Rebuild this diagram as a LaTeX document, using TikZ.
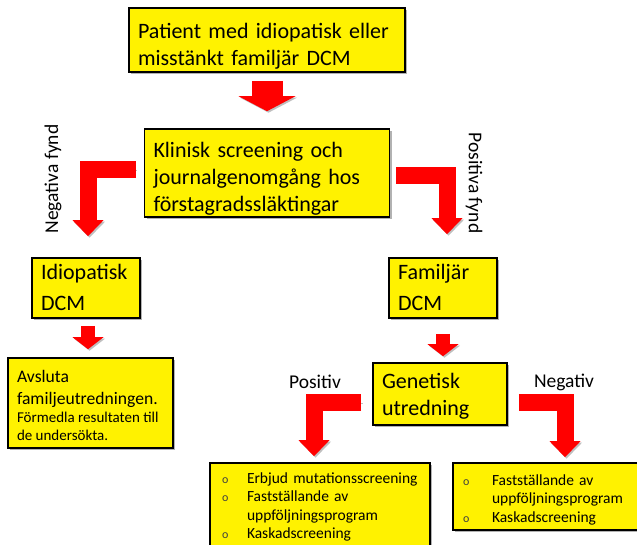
\documentclass[tikz,border=0pt]{standalone}
\usepackage{fontspec}
\setmainfont{Carlito}
\usetikzlibrary{arrows.meta,positioning,shadows}
\newcommand{\lstdot}[1][25pt]{\makebox[#1][l]{\textcolor{black!75}{\fontsize{12}{12}\selectfont o}}}
\newcommand{\lstgap}[1][25pt]{\hspace*{#1}}

\begin{document}
\begin{tikzpicture}[
  x=1pt, y=-1pt,
  box/.style={draw=black, line width=1.6pt, fill=yellow, align=left,
    inner xsep=9pt, inner ysep=0pt,
    drop shadow={shadow xshift=2pt, shadow yshift=-2pt, opacity=0.3, fill=black}},
  big/.style={font=\fontsize{22}{27}\selectfont},
  lst/.style={font=\fontsize{15.5}{18.5}\selectfont},
  lbl/.style={font=\fontsize{19.5}{22}\selectfont},
  blk/.style={draw=red, line join=miter,
    preaction={draw=black!25, transform canvas={shift={(1.5pt,-1.5pt)}}}},
  arrbig/.style={blk, line width=31pt, -{Triangle[width=57pt,length=15pt,line width=0pt]}},
  arrsmall/.style={blk, line width=14pt, -{Triangle[width=31pt,length=12pt,line width=0pt]}},
  arrbent/.style={blk, line width=17pt, -{Triangle[width=31pt,length=16pt,line width=0pt]}}
]
\useasboundingbox (0,0) rectangle (637,544);

% boxes
\node[box, big, minimum width=276pt, text width=258pt, text height=30pt, text depth=34pt] (pat) at (267,40)
  {Patient med idiopatisk eller\\misstänkt familjär DCM};
\node[box, big, minimum width=245pt, text width=227pt, text height=28pt, text depth=60pt] (scr) at (267,173)
  {Klinisk screening och\\journalgenomgång hos\\förstagradssläktingar};
\node[box, font=\fontsize{22}{31}\selectfont, minimum width=108pt, text width=90pt, text height=21pt, text depth=39pt] (idio) at (86,288)
  {Idiopatisk\\DCM};
\node[box, font=\fontsize{22}{31}\selectfont, minimum width=108pt, text width=90pt, text height=21pt, text depth=39pt] (fam) at (443,288)
  {Familjär\\DCM};
\node[box, minimum width=165pt, text height=24pt, text depth=66pt] (avsl) at (90.5,403)
  {\parbox[t]{147pt}{\raggedright
   \fontsize{17.6}{22}\selectfont Avsluta\\familjeutredningen.\par
   \fontsize{15}{18}\selectfont Förmedla resultaten till\\de undersökta.}};
\node[box, big, minimum width=134pt, text width=116pt, text height=25pt, text depth=37pt] (gen) at (440,394)
  {Genetisk\\utredning};
\node[box, lst, inner xsep=12pt, minimum width=220pt, text width=196pt, text height=20pt, text depth=69pt] (posbox) at (320,507.5)
  {\lstdot Erbjud mutationsscreening\\\lstdot Fastställande av\\\lstgap uppföljningsprogram\\\lstdot Kaskadscreening};
\node[box, lst, inner xsep=10pt, minimum width=224pt, text width=204pt, text height=22pt, text depth=45pt] (negbox) at (565,496.5)
  {\lstdot[29pt]Fastställande av\\\lstgap[29pt]uppföljningsprogram\\\lstdot[29pt]Kaskadscreening};

% labels
\node[lbl, rotate=90] (negfynd) at (53,179) {Negativa fynd};
\node[lbl, rotate=-90] (posfynd) at (474,183) {Positiva fynd};
\node[lbl] (posit) at (315,382) {Positiv};
\node[lbl] (negat) at (564,382) {Negativ};

% arrows
\draw[arrbig] ([yshift=-8pt]pat.south) -- ([yshift=17pt]scr.north);
\draw[arrbent] ([xshift=-8pt,yshift=4pt]scr.west) -| ([xshift=2pt,yshift=21pt]idio.north);
\draw[arrbent] ([xshift=6pt,yshift=-2pt]scr.east) -| ([xshift=4pt,yshift=23pt]fam.north);
\draw[arrsmall] ([xshift=2pt,yshift=-7pt]idio.south) -- ([xshift=2pt,yshift=8pt]idio.south |- avsl.north);
\draw[arrsmall] ([yshift=-15pt]fam.south) -- ([yshift=6pt]fam.south |- gen.north);
\draw[arrbent] ([xshift=-11pt,yshift=-8pt]gen.west) -| ([xshift=-6pt,yshift=6pt]posbox.north);
\draw[arrbent] ([xshift=11pt,yshift=-8pt]gen.east) -| ([yshift=5pt]negbox.north);
\end{tikzpicture}
\end{document}
